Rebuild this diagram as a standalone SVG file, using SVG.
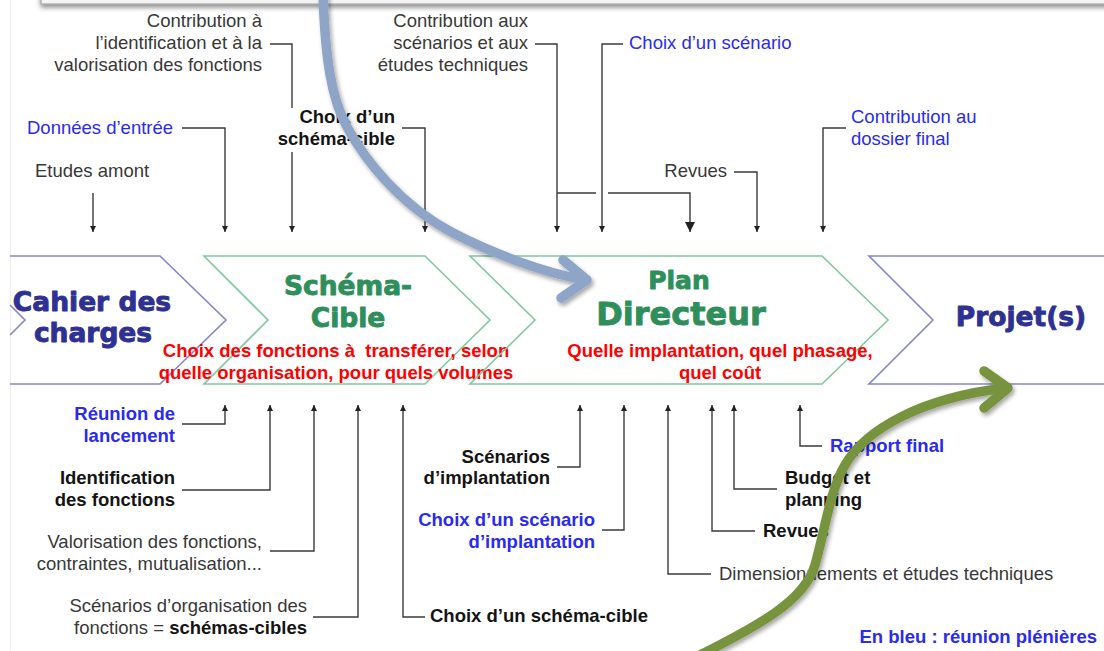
<svg xmlns="http://www.w3.org/2000/svg" width="1104" height="651" viewBox="0 0 1104 651">
  <defs>
    <style>
      .t { font-family: "Liberation Sans", Arial, sans-serif; font-size: 18.5px; fill: #383838; }
      .b { font-weight: bold; fill: #141414; }
      .blue { fill: #2a2af0; }
      .red { font-family: "Liberation Sans", Arial, sans-serif; font-size: 18.5px; font-weight: bold; fill: #ff0000; }
      .title { font-family: "DejaVu Sans", Verdana, sans-serif; font-weight: bold; stroke-width: 0.9; stroke-linejoin: round; }
      .navy { fill: #2e3192; stroke: #2e3192; }
      .green { fill: #2f8f5b; stroke: #2f8f5b; }
      .chev-b { fill: none; stroke: #8585cc; stroke-width: 1.6; }
      .chev-g { fill: none; stroke: #80c8a0; stroke-width: 1.6; }
      .conn { fill: none; stroke: #3a3a3a; stroke-width: 1.4; }
      .down { marker-end: url(#ah); }
      .big { fill: none; stroke-width: 9.5; stroke-linecap: round; stroke-linejoin: round; }
    </style>
    <marker id="ah" viewBox="0 0 6 6" refX="6" refY="3" markerWidth="6" markerHeight="6" markerUnits="userSpaceOnUse" orient="auto">
      <path d="M0,0 L6,3 L0,6 z" fill="#222"/>
    </marker>
    <marker id="ahBig" viewBox="0 0 10 10" refX="10" refY="5" markerWidth="10" markerHeight="10" markerUnits="userSpaceOnUse" orient="auto">
      <path d="M0,0 L10,5 L0,10 z" fill="#222"/>
    </marker>
    <filter id="sh" x="-20%" y="-20%" width="140%" height="140%">
      <feDropShadow dx="2" dy="3" stdDeviation="2.2" flood-color="#000" flood-opacity="0.35"/>
    </filter>
    <filter id="barsh" x="-5%" y="-50%" width="110%" height="300%">
      <feDropShadow dx="0" dy="3" stdDeviation="2.5" flood-color="#000" flood-opacity="0.45"/>
    </filter>
  </defs>

  <rect x="0" y="0" width="1104" height="651" fill="#ffffff"/>
  <line x1="10.5" y1="0" x2="10.5" y2="651" stroke="#eeeeee" stroke-width="1"/>

  <!-- top bar -->
  <g id="top-bar">
    <rect x="41" y="-30" width="1080" height="34" fill="#f4f4f4" stroke="#9a9a9a" stroke-width="1" filter="url(#barsh)"/>
  </g>

  <!-- chevrons -->
  <g id="cahier">
    <path class="chev-b" d="M10,256 H160 L226,320 L160,384 H10"/>
    <path class="chev-b" d="M10,305 L25,320 L10,335"/>
    <text class="title navy" x="92" y="311" font-size="26.5" text-anchor="middle">Cahier des</text>
    <text class="title navy" x="93" y="342" font-size="26.5" text-anchor="middle">charges</text>
  </g>
  <g id="schema-cible">
    <path class="chev-g" d="M204,256 H425 L490,320 L425,384 H204 L268,320 Z"/>
    <text class="title green" x="348" y="295" font-size="26.5" text-anchor="middle">Schéma-</text>
    <text class="title green" x="348" y="327" font-size="26.5" text-anchor="middle">Cible</text>
    <text class="red" x="336" y="357" text-anchor="middle" xml:space="preserve">Choix des fonctions à  transférer, selon</text>
    <text class="red" x="336" y="379" text-anchor="middle">quelle organisation, pour quels volumes</text>
  </g>
  <g id="plan-directeur">
    <path class="chev-g" d="M470,256 H822 L888,320 L822,384 H470 L535,320 Z"/>
    <text class="title green" x="679" y="289" font-size="25" text-anchor="middle">Plan</text>
    <text class="title green" x="681" y="325" font-size="32" text-anchor="middle">Directeur</text>
    <text class="red" x="720" y="357" text-anchor="middle">Quelle implantation, quel phasage,</text>
    <text class="red" x="720" y="379" text-anchor="middle">quel coût</text>
  </g>
  <g id="projets">
    <path class="chev-b" d="M1110,256 H869 L933,320 L869,384 H1110"/>
    <text class="title navy" x="1021" y="326" font-size="26.5" text-anchor="middle">Projet(s)</text>
  </g>

  <!-- top labels -->
  <g id="etudes-amont"><text class="t" x="35" y="177">Etudes amont</text></g>
  <g id="donnees-entree"><text class="t blue" x="27" y="134">Données d’entrée</text></g>
  <g id="contribution-identification">
    <text class="t" text-anchor="end" x="262" y="27">Contribution à</text>
    <text class="t" text-anchor="end" x="262" y="49">l’identification et à la</text>
    <text class="t" text-anchor="end" x="262" y="71">valorisation des fonctions</text>
  </g>
  <g id="choix-schema-top">
    <text class="t b" text-anchor="end" x="395" y="123">Choix d’un</text>
    <text class="t b" text-anchor="end" x="395" y="145">schéma-cible</text>
  </g>
  <g id="contribution-scenarios">
    <text class="t" text-anchor="end" x="528" y="27">Contribution aux</text>
    <text class="t" text-anchor="end" x="528" y="49">scénarios et aux</text>
    <text class="t" text-anchor="end" x="528" y="71">études techniques</text>
  </g>
  <g id="choix-scenario-top"><text class="t blue" x="629" y="49">Choix d’un scénario</text></g>
  <g id="revues-top"><text class="t" text-anchor="end" x="727" y="177">Revues</text></g>
  <g id="contribution-dossier">
    <text class="t blue" x="851" y="123">Contribution au</text>
    <text class="t blue" x="851" y="145">dossier final</text>
  </g>

  <!-- bottom labels -->
  <g id="reunion-lancement">
    <text class="t b blue" text-anchor="end" x="175" y="420">Réunion de</text>
    <text class="t b blue" text-anchor="end" x="175" y="442">lancement</text>
  </g>
  <g id="identification">
    <text class="t b" text-anchor="end" x="175" y="484">Identification</text>
    <text class="t b" text-anchor="end" x="175" y="506">des fonctions</text>
  </g>
  <g id="valorisation">
    <text class="t" text-anchor="end" x="262" y="548">Valorisation des fonctions,</text>
    <text class="t" text-anchor="end" x="262" y="570">contraintes, mutualisation...</text>
  </g>
  <g id="scenarios-organisation">
    <text class="t" text-anchor="end" x="307" y="612">Scénarios d’organisation des</text>
    <text class="t" text-anchor="end" x="307" y="634">fonctions = <tspan font-weight="bold" fill="#141414">schémas-cibles</tspan></text>
  </g>
  <g id="choix-schema-bottom"><text class="t b" x="430" y="622">Choix d’un schéma-cible</text></g>
  <g id="scenarios-implantation">
    <text class="t b" text-anchor="end" x="550" y="463">Scénarios</text>
    <text class="t b" text-anchor="end" x="550" y="484">d’implantation</text>
  </g>
  <g id="choix-scenario-implantation">
    <text class="t b blue" text-anchor="end" x="595" y="526">Choix d’un scénario</text>
    <text class="t b blue" text-anchor="end" x="595" y="548">d’implantation</text>
  </g>
  <g id="dimensionnements"><text class="t" x="719" y="580">Dimensionnements et études techniques</text></g>
  <g id="revues-bottom"><text class="t b" x="763" y="537">Revues</text></g>
  <g id="budget">
    <text class="t b" x="785" y="484">Budget et</text>
    <text class="t b" x="785" y="506">planning</text>
  </g>
  <g id="rapport-final"><text class="t b blue" x="830" y="452">Rapport final</text></g>
  <g id="legend"><text class="t b blue" text-anchor="end" x="1097" y="643">En bleu : réunion plénières</text></g>

  <!-- connectors -->
  <g id="connectors">
    <path class="conn down" d="M93,193 V232"/>
    <path class="conn down" d="M182,128 H225 V232"/>
    <path class="conn" d="M270,44 H292 V108"/>
    <path class="conn down" d="M292,152 V232"/>
    <path class="conn down" d="M402,128 H425 V232"/>
    <path class="conn down" d="M535,44 H557 V232"/>
    <path class="conn" d="M557,193 H596"/>
    <path class="conn" d="M608,193 H690 V232" marker-end="url(#ahBig)"/>
    <path class="conn down" d="M623,44 H602 V232"/>
    <path class="conn down" d="M734,172 H757 V232"/>
    <path class="conn down" d="M846,128 H823 V232"/>

    <path class="conn down" d="M182,424 H225 V405"/>
    <path class="conn down" d="M182,490 H270 V405"/>
    <path class="conn down" d="M270,551 H314 V405"/>
    <path class="conn down" d="M313,617 H358 V405"/>
    <path class="conn down" d="M425,617 H403 V405"/>
    <path class="conn down" d="M557,467 H580 V405"/>
    <path class="conn down" d="M602,530 H624 V405"/>
    <path class="conn down" d="M711,574 H668 V405"/>
    <path class="conn down" d="M755,531 H712 V405"/>
    <path class="conn down" d="M777,489 H734 V405"/>
    <path class="conn down" d="M822,446 H800 V405"/>
  </g>

  <!-- curved arrows -->
  <g id="blue-arrow" filter="url(#sh)">
    <path class="big" stroke="#8ea5c7" d="M323,-8 C325,60 332,100 347,127 C365,160 400,205 453,233 C490,252 540,272 585,280"/>
    <path class="big" stroke="#8ea5c7" d="M563,260 L587,280 L561,298"/>
  </g>
  <g id="green-arrow" filter="url(#sh)">
    <path class="big" stroke="#77933c" stroke-width="10" d="M698,656 C760,625 805,600 815,565 C825,530 830,490 845,465 C865,430 920,398 1005,388"/>
    <path class="big" stroke="#77933c" stroke-width="10" d="M984,371 L1008,388 L984,408"/>
  </g>
</svg>
